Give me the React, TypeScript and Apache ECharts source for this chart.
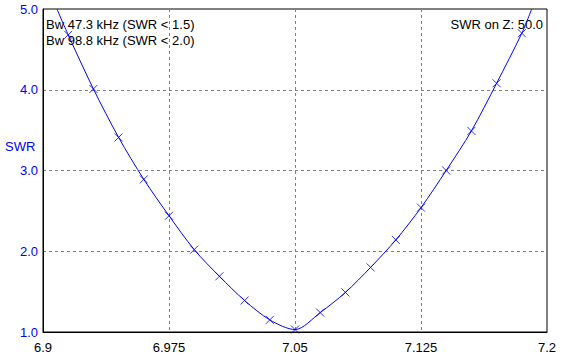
import React, { useEffect, useRef } from "react";
import * as echarts from "echarts";

const freqs = [6.915, 6.93, 6.945, 6.96, 6.975, 6.99, 7.005, 7.02, 7.035, 7.05, 7.065, 7.08, 7.095, 7.11, 7.125, 7.14, 7.155, 7.17, 7.185];
const swr = [4.68, 4.01, 3.41, 2.89, 2.44, 2.02, 1.69, 1.39, 1.15, 1.03, 1.24, 1.49, 1.8, 2.14, 2.54, 3.0, 3.49, 4.08, 4.7];
const curveStart = [6.9083, 5.0];
const curveEnd = [7.1909, 5.0];
const infoLeft = ["Bw 47.3 kHz (SWR < 1.5)", "Bw 98.8 kHz (SWR < 2.0)"];
const infoRight = "SWR on Z: 50.0";
const yName = "SWR";

const FONT = '13px "Liberation Sans", Arial, sans-serif';

export default function App() {
  const ref = useRef<HTMLDivElement>(null);
  useEffect(() => {
    if (!ref.current) return;
    const chart = echarts.init(ref.current, null, { renderer: "svg" });
    const markers = freqs.map((f, i) => [f, swr[i]]);
    const lineData = [curveStart, ...markers, curveEnd];
    chart.setOption({
      animation: false,
      backgroundColor: "#ffffff",
      grid: { left: 43, right: 39, top: 9, bottom: 31, show: true, borderColor: "#000", borderWidth: 1, backgroundColor: "transparent" },
      xAxis: {
        type: "value",
        min: 6.9,
        max: 7.2,
        interval: 0.075,
        axisLine: { show: true, lineStyle: { color: "#000", width: 1 } },
        axisTick: { show: false },
        axisLabel: {
          color: "#000",
          fontSize: 13,
          fontFamily: '"Liberation Sans", Arial, sans-serif',
          margin: 9,
          formatter: (v: number) => String(parseFloat(v.toFixed(3))),
        },
        splitLine: { show: true, showMinLine: false, showMaxLine: false, lineStyle: { color: "#808080", type: [3, 3], width: 1 } },
      },
      yAxis: {
        type: "value",
        min: 1,
        max: 5,
        interval: 1,
        axisLine: { show: true, lineStyle: { color: "#000", width: 1 } },
        axisTick: { show: false },
        axisLabel: {
          color: "#0000ff",
          fontSize: 13,
          fontFamily: '"Liberation Sans", Arial, sans-serif',
          margin: 5,
          formatter: (v: number) => v.toFixed(1),
        },
        splitLine: { show: true, showMinLine: false, showMaxLine: false, lineStyle: { color: "#808080", type: [3, 3], width: 1 } },
      },
      series: [
        {
          type: "line",
          data: lineData,
          smooth: 0.3,
          showSymbol: false,
          lineStyle: { color: "#0000ff", width: 1 },
          clip: true,
        },
        {
          type: "scatter",
          data: markers,
          symbol: "path://M0,0L10,10M10,0L0,10",
          symbolSize: 8,
          itemStyle: { color: "none", borderColor: "#0000ff", borderWidth: 1 },
        },
      ],
      graphic: [
        { type: "text", left: 46, top: 18, style: { text: infoLeft[0], font: FONT, fill: "#000" } },
        { type: "text", left: 46, top: 34, style: { text: infoLeft[1], font: FONT, fill: "#000" } },
        { type: "text", right: 43, top: 18, style: { text: infoRight, font: FONT, fill: "#000" } },
        { type: "text", left: 5, top: 140, style: { text: yName, font: FONT, fill: "#0000ff" } },
      ],
    });
    return () => chart.dispose();
  }, []);
  return <div ref={ref} style={{ position: "fixed", left: 0, top: 0, width: 586, height: 363 }} />;
}
